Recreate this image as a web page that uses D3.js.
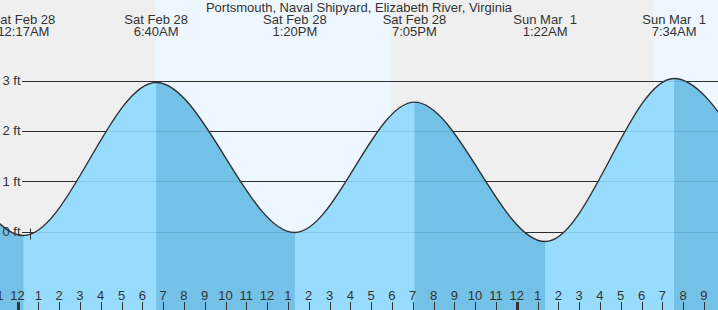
<!DOCTYPE html>
<html>
<head>
<meta charset="utf-8">
<script src="https://cdn.jsdelivr.net/npm/d3@7"></script>
<style>
  html, body { margin: 0; padding: 0; background: #fff; }
  svg { display: block; }
  text { font-family: "Liberation Sans", Arial, sans-serif; font-size: 13px; fill: #333; white-space: pre; }
</style>
</head>
<body>
<div id="chart"></div>
<script>
// ---- data ----
const title = "Portsmouth, Naval Shipyard, Elizabeth River, Virginia";
// tide extremes (local time) and heights in feet
const tideTimes = [
  "2026-02-27T11:50", "2026-02-27T18:05",
  "2026-02-28T00:17", "2026-02-28T06:40", "2026-02-28T13:20",
  "2026-02-28T19:05", "2026-03-01T01:22", "2026-03-01T07:34",
  "2026-03-01T14:00", "2026-03-01T19:50"
];
const tideHeights = [0.0, 2.55, -0.08, 2.96, -0.02, 2.57, -0.2, 3.04, 0.45, 2.7];
const tideKinds = ["L", "H", "L", "H", "L", "H", "L", "H", "L", "H"];
// labelled extremes
const labelTimes = ["2026-02-28T00:17", "2026-02-28T06:40", "2026-02-28T13:20", "2026-02-28T19:05", "2026-03-01T01:22", "2026-03-01T07:34"];
const labelDays = ["Sat Feb 28", "Sat Feb 28", "Sat Feb 28", "Sat Feb 28", "Sun Mar  1", "Sun Mar  1"];
const labelClock = ["12:17AM", "6:40AM", "1:20PM", "7:05PM", "1:22AM", "7:34AM"];
// daylight periods (sunrise, sunset)
const sunrise = ["2026-02-28T06:37", "2026-03-01T06:36"];
const sunset = ["2026-02-28T17:58", "2026-03-01T17:59"];
const yTicks = [0, 1, 2, 3];
const yTickLabels = ["0 ft", "1 ft", "2 ft", "3 ft"];
const nowTime = "2026-02-28T00:36";

// ---- layout ----
const W = 718, H = 310;
const parse = s => new Date(s);
const svg = d3.select("#chart").append("svg").attr("width", W).attr("height", H);

const x = d3.scaleTime()
  .domain([new Date(2026, 1, 28, 0, 0), new Date(2026, 2, 1, 0, 0)])
  .range([17.5, 516.7]);
const y = d3.scaleLinear().domain([0, 3]).range([231.5, 80.5]);
const t0 = x.invert(0), t1 = x.invert(W);

// background: night grey, day light blue
svg.append("rect").attr("x", 0).attr("y", 0).attr("width", W).attr("height", H).attr("fill", "#efefef");
sunrise.forEach((sr, i) => {
  const a = Math.max(0, x(parse(sr))), b = Math.min(W, x(parse(sunset[i])));
  if (b > a) svg.append("rect").attr("x", a).attr("y", 0).attr("width", b - a).attr("height", H).attr("fill", "#eef7ff");
});

// grid lines (dark, under the water)
const gridX0 = 22;
svg.append("g").selectAll("line").data(yTicks).join("line")
  .attr("x1", gridX0).attr("x2", W)
  .attr("y1", d => Math.round(y(d)) + 0.5).attr("y2", d => Math.round(y(d)) + 0.5)
  .attr("stroke", "#333").attr("stroke-width", 1);

// tide curve
const pts = tideTimes.map((t, i) => ({ t: parse(t), v: tideHeights[i], k: tideKinds[i] }));
const area = d3.area().x(d => x(d.t)).y0(H).y1(d => y(d.v)).curve(d3.curveMonotoneX);
const line = d3.line().x(d => x(d.t)).y(d => y(d.v)).curve(d3.curveMonotoneX);

// clip for falling segments (high -> next low)
const defs = svg.append("defs");
const clip = defs.append("clipPath").attr("id", "falling");
for (let i = 0; i < pts.length - 1; i++) {
  if (pts[i].k === "H") {
    const a = x(pts[i].t), b = x(pts[i + 1].t);
    clip.append("rect").attr("x", a).attr("y", 0).attr("width", b - a).attr("height", H);
  }
}
svg.append("path").datum(pts).attr("d", area).attr("fill", "#97dcfc");
svg.append("path").datum(pts).attr("d", area).attr("fill", "#73c1e6").attr("clip-path", "url(#falling)");

// faint grid lines over the water
svg.append("g").selectAll("line").data(yTicks).join("line")
  .attr("x1", gridX0).attr("x2", W)
  .attr("y1", d => Math.round(y(d)) + 0.5).attr("y2", d => Math.round(y(d)) + 0.5)
  .attr("stroke", "rgba(0,0,0,0.09)").attr("stroke-width", 1);

svg.append("path").datum(pts).attr("d", line)
  .attr("fill", "none").attr("stroke", "#333").attr("stroke-width", 1.4);

// now marker
svg.append("line")
  .attr("x1", Math.round(x(parse(nowTime))) + 0.5).attr("x2", Math.round(x(parse(nowTime))) + 0.5)
  .attr("y1", y(0) - 3).attr("y2", y(0) + 8)
  .attr("stroke", "#333").attr("stroke-width", 1);

// y labels
svg.append("g").selectAll("text").data(yTicks).join("text")
  .attr("x", 2.5).attr("y", d => y(d) + 4.5)
  .text((d, i) => yTickLabels[i]);

// hour ticks and labels
const hours = d3.timeHour.every(1).range(d3.timeHour.floor(t0), t1);
const fmtHour = d3.timeFormat("%-I");
const gx = svg.append("g");
gx.selectAll("line").data(hours).join("line")
  .attr("x1", d => Math.round(x(d)) + 0.5).attr("x2", d => Math.round(x(d)) + 0.5)
  .attr("y1", 302).attr("y2", H)
  .attr("stroke", "#333")
  .attr("stroke-width", d => d.getHours() === 0 ? 3 : 1);
gx.selectAll("text").data(hours).join("text")
  .attr("x", d => x(d)).attr("y", 300)
  .attr("text-anchor", "middle")
  .text(d => fmtHour(d));

// extreme labels
const gl = svg.append("g");
labelTimes.forEach((t, i) => {
  const cx = x(parse(t));
  gl.append("text").attr("x", cx).attr("y", 24).attr("text-anchor", "middle").text(labelDays[i]);
  gl.append("text").attr("x", cx).attr("y", 36).attr("text-anchor", "middle").text(labelClock[i]);
});

// title
svg.append("text").attr("x", W / 2).attr("y", 12).attr("text-anchor", "middle").text(title);
</script>
</body>
</html>
